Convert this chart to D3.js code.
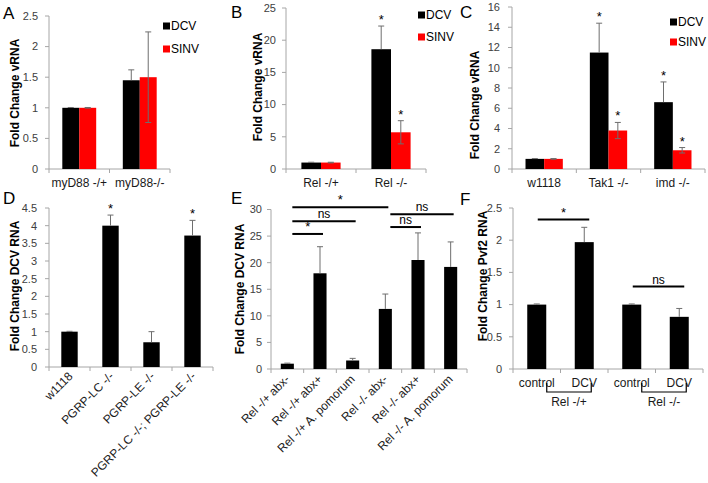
<!DOCTYPE html>
<html><head><meta charset="utf-8">
<script src="https://cdn.jsdelivr.net/npm/d3@7"></script>
<style>
body{margin:0;background:#fff;}
text{font-family:"Liberation Sans",Arial,sans-serif;}
</style></head>
<body><svg id="c" width="708" height="483"></svg>
<script>
// ---- data ----
const seriesNames = ["DCV","SINV"];
const aCats = ["myD88 -/+","myD88-/-"];
const aDCV = [1, 1.45], aDCVerr = [0.005, 0.17];
const aSINV = [1, 1.5], aSINVerr = [0.005, 0.74];

const bCats = ["Rel -/+","Rel -/-"];
const bDCV = [1, 18.6], bDCVerr = [0.05, 3.6];
const bSINV = [1, 5.7], bSINVerr = [0.05, 1.8];
const bStars = [[false,true],[false,true]];

const cCats = ["w1118","Tak1 -/-","imd -/-"];
const cDCV = [1, 11.5, 6.6], cDCVerr = [0.03, 2.9, 2.0];
const cSINV = [1, 3.8, 1.85], cSINVerr = [0.03, 0.8, 0.27];
const cStars = [[false,true,true],[false,true,true]];

const dCats = ["w1118","PGRP-LC -/-","PGRP-LE -/-","PGRP-LC -/-; PGRP-LE -/-"];
const dVals = [1, 4.0, 0.7, 3.72], dErr = [0.01, 0.3, 0.3, 0.43];
const dStars = [false,true,false,true];

const eCats = ["Rel -/+ abx-","Rel -/+ abx+","Rel -/+ A. pomorum","Rel -/- abx-","Rel -/- abx+","Rel -/- A. pomorum"];
const eVals = [1, 18, 1.6, 11.3, 20.5, 19.2], eErr = [0.1, 5.0, 0.4, 2.8, 5.1, 4.7];
// significance: [fromIndex, toIndex, yValue, label]
const eSig = [[0,3,30.4,"*"],[0,2,27.8,"ns"],[0,1,25.4,"*"],[3,5,29.1,"ns"],[3,4,26.7,"ns"]];

const fCats = ["control","DCV","control ","DCV "];
const fGroups = ["Rel -/+","Rel -/-"];
const fVals = [1, 1.97, 1, 0.81], fErr = [0.01, 0.23, 0.01, 0.13];
const fSig = [[0,1,2.32,"*"],[2,3,1.28,"ns"]];

// ---- drawing ----
const svg = d3.select("#c");
const colors = ["#000000","#ff0000"];
const axisCol = "#a6a6a6", tickCol = "#404040", errCol = "#6e6e6e";

function panel(o){
  const g = svg.append("g");
  const y = d3.scaleLinear().domain([0,o.max]).range([o.y0,o.yTop]);
  const x = d3.scaleBand().domain(o.cats).range([o.x0,o.x1]);
  // y axis
  g.append("line").attr("x1",o.x0).attr("x2",o.x0).attr("y1",y(0)).attr("y2",y(o.max)).attr("stroke",axisCol);
  const ticks = d3.range(0, o.max + o.step/2, o.step);
  ticks.forEach(t=>{
    g.append("line").attr("x1",o.x0-4).attr("x2",o.x0).attr("y1",y(t)).attr("y2",y(t)).attr("stroke",axisCol);
    g.append("text").attr("x",o.x0-o.gap).attr("y",y(t)).attr("dy","0.35em").attr("text-anchor","end")
      .attr("font-size",11).attr("fill",tickCol).text(d3.format("~g")(+t.toFixed(2)));
  });
  // x axis
  g.append("line").attr("x1",o.x0).attr("x2",o.x1).attr("y1",y(0)).attr("y2",y(0)).attr("stroke",axisCol);
  o.cats.forEach((c,i)=>{
    const xx = x(c)+x.bandwidth();
    g.append("line").attr("x1",xx).attr("x2",xx).attr("y1",y(0)).attr("y2",y(0)+4).attr("stroke",axisCol);
  });
  g.append("line").attr("x1",o.x0).attr("x2",o.x0).attr("y1",y(0)).attr("y2",y(0)+4).attr("stroke",axisCol);
  // bars
  const nS = o.series.length;
  const grpW = x.bandwidth()*o.fill;
  const x1 = d3.scaleBand().domain(d3.range(nS)).range([0,grpW]);
  o.series.forEach((s,si)=>{
    o.cats.forEach((c,i)=>{
      const bx = x(c) + (x.bandwidth()-grpW)/2 + x1(si);
      g.append("rect").attr("x",bx).attr("y",y(s.v[i])).attr("width",x1.bandwidth()).attr("height",y(0)-y(s.v[i])).attr("fill",s.col);
      const cx = bx + x1.bandwidth()/2;
      const hi = s.v[i]+s.e[i], lo = s.both ? s.v[i]-s.e[i] : s.v[i];
      g.append("line").attr("x1",cx).attr("x2",cx).attr("y1",y(hi)).attr("y2",y(lo)).attr("stroke",errCol);
      g.append("line").attr("x1",cx-3).attr("x2",cx+3).attr("y1",y(hi)).attr("y2",y(hi)).attr("stroke",errCol);
      if (s.both) g.append("line").attr("x1",cx-3).attr("x2",cx+3).attr("y1",y(lo)).attr("y2",y(lo)).attr("stroke",errCol);
      if (s.stars && s.stars[i]) {
        g.append("text").attr("x",cx).attr("y",y(hi)-2).attr("text-anchor","middle").attr("font-size",13).text("*");
      }
    });
  });
  // x labels
  if (o.rot) {
    o.cats.forEach(c=>{
      g.append("text").attr("transform",`translate(${x(c)+x.bandwidth()/2+o.rotDx},${o.labY}) rotate(-45)`)
        .attr("text-anchor","end").attr("font-size",12).attr("fill","#1a1a1a").text(c);
    });
  } else {
    o.cats.forEach(c=>{
      g.append("text").attr("x",x(c)+x.bandwidth()/2).attr("y",o.labY).attr("text-anchor","middle")
        .attr("font-size",12).attr("fill","#1a1a1a").text(c.trim());
    });
  }
  // y title
  g.append("text").attr("transform",`translate(${o.titleX},${o.titleY}) rotate(-90)`).attr("text-anchor","middle")
    .attr("dy","0.35em").attr("font-size",12).attr("font-weight","bold").text(o.title);
  // panel letter
  g.append("text").attr("x",o.letterX).attr("y",o.letterY).attr("font-size",17).text(o.letter);
  // legend
  if (o.legend) {
    o.series.forEach((s,si)=>{
      const ly = o.legend[1] + si*o.legend[2];
      g.append("rect").attr("x",o.legend[0]).attr("y",ly-3.5).attr("width",7).attr("height",7).attr("fill",s.col);
      g.append("text").attr("x",o.legend[0]+8).attr("y",ly).attr("dy","0.35em").attr("font-size",12).text(seriesNames[si]);
    });
  }
  // significance
  if (o.sig) {
    o.sig.forEach(sg=>{
      const xa = x(o.cats[sg[0]])+x.bandwidth()/2+o.sigDx[0];
      const xb = x(o.cats[sg[1]])+x.bandwidth()/2+o.sigDx[1];
      g.append("line").attr("x1",xa).attr("x2",xb).attr("y1",y(sg[2])).attr("y2",y(sg[2])).attr("stroke","#000").attr("stroke-width",2);
      g.append("text").attr("x",(xa+xb)/2).attr("y",y(sg[2])-3).attr("text-anchor","middle")
        .attr("font-size",sg[3]==="*"?13:12).text(sg[3]);
    });
  }
  return {x,y,g};
}

panel({cats:aCats, series:[{v:aDCV,e:aDCVerr,col:colors[0]},{v:aSINV,e:aSINVerr,col:colors[1],both:true}],
  max:2.5, step:0.5, x0:49, x1:170, y0:169, yTop:16, gap:11, fill:0.56, labY:187,
  title:"Fold Change vRNA", titleX:15, titleY:93, letter:"A", letterX:3, letterY:19, legend:[163,26,23]});

panel({cats:bCats, series:[{v:bDCV,e:bDCVerr,col:colors[0],stars:bStars[0]},{v:bSINV,e:bSINVerr,col:colors[1],stars:bStars[1],both:true}],
  max:25, step:5, x0:286, x1:426, y0:169, yTop:8, gap:10, fill:0.56, labY:187,
  title:"Fold Change vRNA", titleX:258, titleY:87, letter:"B", letterX:231, letterY:18, legend:[418,15,22]});

panel({cats:cCats, series:[{v:cDCV,e:cDCVerr,col:colors[0],stars:cStars[0]},{v:cSINV,e:cSINVerr,col:colors[1],stars:cStars[1],both:true}],
  max:16, step:2, x0:512, x1:705, y0:169, yTop:7, gap:12, fill:0.58, labY:187,
  title:"Fold Change vRNA", titleX:475, titleY:105, letter:"C", letterX:460, letterY:18, legend:[670,22,20]});

panel({cats:dCats, series:[{v:dVals,e:dErr,col:colors[0],stars:dStars}],
  max:4.5, step:0.5, x0:49, x1:213, y0:367, yTop:208, gap:12, fill:0.4, rot:true, rotDx:4, labY:377,
  title:"Fold Change DCV RNA", titleX:15, titleY:286, letter:"D", letterX:3, letterY:204});

panel({cats:eCats, series:[{v:eVals,e:eErr,col:colors[0]}],
  max:30, step:5, x0:271, x1:467, y0:369, yTop:209.5, gap:9, fill:0.4, rot:true, rotDx:3, labY:380,
  title:"Fold Change DCV RNA", titleX:240, titleY:289, letter:"E", letterX:231, letterY:204,
  sig:eSig, sigDx:[5,3]});

const fp = panel({cats:fCats, series:[{v:fVals,e:fErr,col:colors[0]}],
  max:2.5, step:0.5, x0:513, x1:703, y0:369, yTop:208, gap:11, fill:0.4, labY:387,
  title:"Fold Change Pvf2 RNA", titleX:483, titleY:276, letter:"F", letterX:460, letterY:205,
  sig:fSig, sigDx:[1,5]});

// F group brackets
fGroups.forEach((gname,gi)=>{
  const xa = fp.x(fCats[gi*2])+fp.x.bandwidth()/2+10;
  const xb = fp.x(fCats[gi*2+1])+fp.x.bandwidth()/2+7;
  fp.g.append("path").attr("d",`M${xa},383V392H${xb}V383`).attr("fill","none").attr("stroke","#000").attr("stroke-width",1.2);
  fp.g.append("text").attr("x",(xa+xb)/2).attr("y",406).attr("text-anchor","middle").attr("font-size",12).attr("fill","#1a1a1a").text(gname);
});
</script></body></html>
